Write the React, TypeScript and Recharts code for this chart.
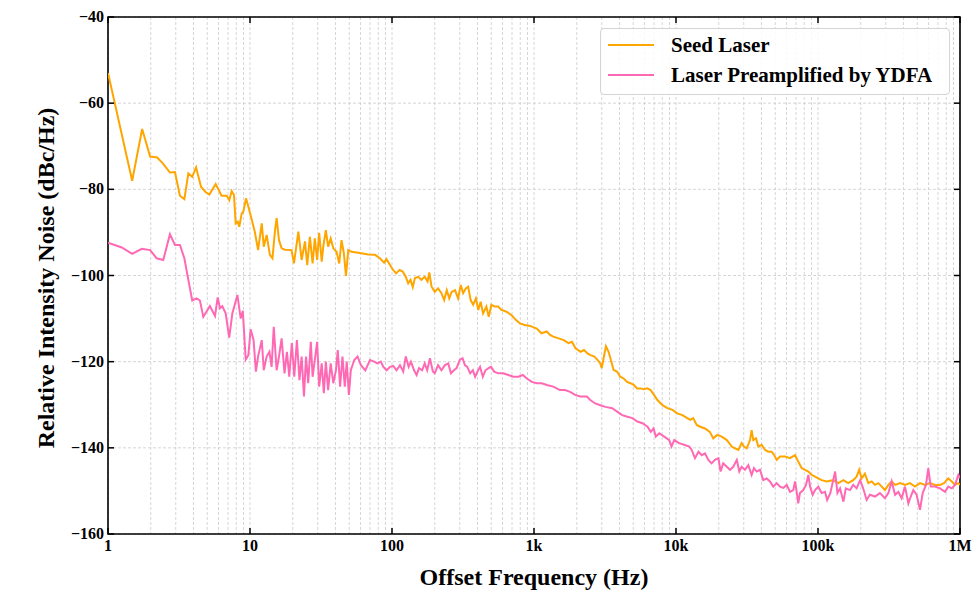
import React from 'react';
import { LineChart, Line, XAxis, YAxis, CartesianGrid, ReferenceArea } from 'recharts';

// [offset frequency (Hz), RIN (dBc/Hz)]
const seedLaser: [number, number][] = [
  [1, -53.0], [1.48, -78.0], [1.74, -66.0], [1.98, -72.4], [2.22, -72.6], [2.45, -74.1], [2.73, -76.1], [2.96, -76.0],
  [3.21, -81.5], [3.45, -82.3], [3.68, -76.3], [3.92, -77.1], [4.17, -74.9], [4.52, -79.4], [4.82, -80.5], [5.17, -81.2],
  [5.73, -78.8], [6.31, -81.5], [6.85, -81.5], [7.15, -82.5], [7.43, -80.4], [7.71, -81.3], [7.93, -87.9], [8.2, -87.5],
  [8.4, -88.7], [8.74, -85.6], [8.97, -85.2], [9.37, -82.1], [9.73, -84.0], [10.3, -87.1], [10.8, -89.8], [11.4, -94.1],
  [12.1, -87.9], [12.5, -93.3], [13.1, -90.6], [13.8, -95.2], [14.4, -96.0], [15.0, -89.5], [15.4, -86.7], [16.0, -91.8],
  [16.7, -93.7], [17.6, -94.0], [19.6, -94.1], [20.4, -97.2], [21.9, -89.8], [23.1, -96.4], [24.4, -92.1], [25.3, -97.6],
  [26.4, -91.0], [27.6, -97.2], [28.6, -91.4], [29.7, -96.4], [30.7, -90.1], [32.0, -96.8], [32.8, -93.3], [34.2, -89.5],
  [35.5, -93.3], [37.0, -91.4], [38.6, -93.7], [40.7, -94.5], [42.5, -97.2], [44.1, -91.8], [45.8, -94.8], [47.4, -100.1],
  [49.2, -94.1], [52.0, -94.5], [59.4, -94.8], [68.0, -95.1], [75.9, -95.2], [82.2, -96.0], [88.0, -97.0], [91.5, -96.2],
  [97.1, -97.6], [101.7, -98.7], [107, -99.5], [113, -98.7], [119, -99.1], [125, -100.3], [130, -101.8], [135, -101.0],
  [140, -102.7], [145, -100.6], [153, -100.3], [161, -101.0], [170, -100.3], [178, -101.4], [183, -99.3], [190, -102.6],
  [200, -103.8], [211, -103.0], [223, -104.1], [233, -105.7], [243, -103.4], [253, -105.3], [263, -103.8], [278, -103.4],
  [292, -105.3], [305, -102.2], [317, -104.1], [331, -103.0], [344, -102.6], [358, -105.7], [373, -106.8], [390, -105.3],
  [405, -108.0], [421, -106.1], [438, -108.8], [462, -107.2], [480, -109.6], [501, -106.8], [529, -107.2], [559, -107.2],
  [590, -108.0], [640, -108.4], [695, -109.2], [744, -110.3], [795, -111.1], [863, -111.5], [937, -111.7], [1046, -112.3],
  [1128, -113.4], [1228, -113.0], [1298, -113.8], [1368, -114.2], [1490, -114.6], [1620, -115.0], [1750, -115.7],
  [1850, -115.4], [1960, -116.9], [2130, -117.7], [2250, -117.3], [2380, -118.1], [2500, -118.5], [2660, -118.8],
  [2800, -119.6], [2930, -120.4], [3000, -121.5], [3120, -118.5], [3210, -116.4], [3350, -117.7], [3480, -119.6],
  [3630, -121.9], [3840, -122.3], [4050, -123.5], [4280, -123.9], [4520, -124.7], [4770, -125.0], [5040, -125.4],
  [5320, -126.2], [5630, -126.2], [5940, -126.4], [6280, -126.2], [6630, -126.6], [7000, -127.7], [7400, -128.9],
  [8030, -130.1], [8700, -130.8], [9440, -131.2], [10200, -132.0], [11100, -132.4], [12000, -133.1], [12600, -133.5],
  [13200, -133.1], [14000, -134.7], [14800, -135.1], [16000, -135.5], [17300, -136.3], [18300, -137.8], [19500, -137.0],
  [21000, -137.4], [22800, -138.2], [24700, -139.7], [26000, -140.1], [27500, -140.5], [29000, -138.9], [30100, -139.7],
  [31500, -140.1], [33200, -138.2], [34100, -135.9], [35000, -138.2], [36600, -137.8], [38000, -139.7], [40100, -139.3],
  [42400, -140.5], [44700, -140.9], [47200, -140.9], [49200, -141.7], [51200, -142.8], [54000, -142.0], [58600, -142.0],
  [63500, -142.4], [68900, -141.7], [72600, -143.2], [76700, -144.7], [80900, -145.1], [85500, -145.5], [90300, -146.3],
  [95300, -146.7], [100500, -147.1], [106000, -147.5], [115000, -147.8], [128000, -147.5], [139000, -148.2],
  [151000, -147.5], [163000, -148.2], [177000, -147.5], [187000, -146.7], [195000, -145.1], [203000, -147.1],
  [214000, -146.0], [226000, -148.2], [239000, -147.8], [252000, -148.6], [266000, -148.2], [281000, -149.0],
  [296000, -149.8], [313000, -148.6], [330000, -147.8], [349000, -148.6], [378000, -148.2], [410000, -148.6],
  [444000, -148.2], [482000, -149.0], [523000, -148.2], [567000, -148.6], [615000, -148.2], [667000, -148.6],
  [723000, -148.6], [771000, -148.2], [827000, -147.1], [875000, -147.8], [923000, -148.6], [973000, -148.2],
  [1000000, -148.6],
];

const ydfaLaser: [number, number][] = [
  [1, -92.4], [1.25, -93.5], [1.48, -95.0], [1.73, -93.8], [1.98, -94.1], [2.2, -96.0], [2.45, -96.4], [2.73, -90.4],
  [2.96, -92.9], [3.21, -92.9], [3.45, -96.0], [3.68, -101.0], [3.92, -105.8], [4.21, -105.3], [4.44, -105.8],
  [4.69, -109.6], [5.22, -107.1], [5.67, -109.4], [5.92, -105.1], [6.15, -107.6], [6.38, -107.1], [6.74, -108.8],
  [7.14, -114.4], [7.51, -108.8], [8.15, -104.5], [8.6, -110.0], [8.9, -108.2], [9.33, -119.5], [9.74, -118.5],
  [10.1, -112.5], [10.6, -115.0], [11.0, -122.3], [11.4, -118.8], [12.1, -115.0], [12.5, -122.0], [13.1, -118.8],
  [13.7, -117.7], [14.2, -121.2], [14.7, -111.9], [15.4, -122.0], [16.0, -118.8], [16.7, -114.6], [17.5, -122.7],
  [18.2, -117.7], [18.9, -123.5], [19.7, -115.7], [20.5, -123.5], [21.4, -115.0], [22.3, -124.3], [23.1, -118.8],
  [24.0, -128.1], [24.8, -118.8], [25.7, -125.0], [26.8, -115.4], [27.6, -123.5], [28.6, -119.6], [29.7, -115.4],
  [30.7, -125.8], [32.0, -120.4], [33.1, -127.3], [34.2, -120.0], [35.5, -126.6], [37.0, -120.4], [38.6, -125.0],
  [40.3, -122.0], [41.5, -117.3], [43.1, -125.8], [44.8, -118.8], [46.5, -125.8], [48.0, -120.0], [49.7, -127.7],
  [51.3, -122.0], [54.2, -119.6], [57.2, -118.8], [60.4, -120.8], [64.9, -122.0], [70.0, -119.6], [74.8, -120.0],
  [78.9, -120.4], [83.4, -120.0], [87.0, -121.2], [91.5, -122.0], [97.1, -121.2], [102, -121.0], [107.6, -122.0],
  [113.8, -120.8], [120, -122.3], [125, -118.8], [131, -121.2], [136, -120.0], [143, -122.0], [149, -123.1],
  [155, -121.5], [163, -122.0], [170, -120.4], [177, -122.0], [185, -119.2], [194, -122.3], [200, -122.7],
  [211, -120.8], [223, -122.0], [236, -120.8], [249, -120.4], [260, -122.7], [273, -122.0], [285, -121.5],
  [300, -119.6], [314, -119.2], [326, -120.8], [339, -121.2], [355, -122.7], [371, -122.0], [385, -123.5],
  [400, -122.3], [417, -121.2], [436, -123.5], [455, -122.0], [478, -121.5], [498, -121.2], [524, -122.3],
  [560, -122.7], [607, -122.7], [659, -123.1], [716, -123.5], [777, -123.5], [834, -123.1], [890, -123.9],
  [965, -124.7], [1047, -125.0], [1135, -125.0], [1230, -125.4], [1368, -125.8], [1524, -126.6], [1654, -126.6],
  [1795, -127.0], [1948, -127.7], [2114, -128.1], [2358, -128.1], [2490, -128.9], [2700, -129.7], [2930, -130.1],
  [3180, -130.5], [3550, -130.8], [3850, -131.6], [4180, -132.4], [4540, -132.8], [4930, -133.1], [5350, -133.9],
  [5800, -134.3], [6300, -135.1], [6650, -136.3], [6950, -135.5], [7210, -137.4], [7620, -136.6], [8260, -137.4],
  [8960, -138.2], [9300, -139.7], [9720, -138.2], [10500, -138.9], [11400, -139.3], [12400, -139.7], [12900, -140.5],
  [13600, -142.4], [14400, -140.9], [15200, -141.7], [16000, -141.3], [16900, -142.8], [17800, -143.6], [18800, -142.8],
  [19900, -142.4], [20600, -145.5], [21500, -143.6], [22800, -144.4], [24000, -145.1], [25300, -144.4], [26800, -142.8],
  [27900, -145.5], [29000, -144.4], [30600, -145.1], [32300, -144.0], [34100, -146.3], [35400, -144.7], [37000, -145.5],
  [39000, -145.1], [41200, -147.5], [43500, -147.1], [45900, -147.8], [48400, -149.0], [51200, -148.2], [54000, -149.0],
  [57000, -149.3], [60200, -148.6], [63500, -150.2], [67000, -149.8], [68900, -147.8], [70800, -150.2], [72600, -152.9],
  [74600, -150.5], [78800, -149.8], [82300, -148.6], [85500, -146.3], [87900, -149.0], [91800, -150.9], [95300, -149.8],
  [100500, -149.0], [106000, -150.5], [112000, -150.2], [116000, -152.1], [122000, -150.5], [125000, -149.0],
  [132000, -145.5], [137000, -150.5], [143000, -149.4], [151000, -152.5], [157000, -149.4], [168000, -149.8],
  [177000, -148.6], [187000, -149.4], [198000, -147.5], [208000, -149.4], [220000, -152.1], [232000, -150.9],
  [252000, -151.3], [273000, -150.5], [296000, -151.7], [313000, -150.5], [330000, -147.8], [349000, -150.9],
  [368000, -150.2], [388000, -151.7], [410000, -149.0], [433000, -152.9], [450000, -151.3], [469000, -149.8],
  [495000, -150.9], [523000, -154.4], [546000, -150.5], [576000, -148.6], [598000, -144.7], [622000, -149.0],
  [667000, -149.0], [723000, -149.4], [784000, -150.2], [827000, -149.0], [875000, -149.4], [923000, -148.6],
  [973000, -146.3], [1000000, -147.0],
];

const xMajorTicks = [1, 10, 100, 1000, 10000, 100000, 1000000];
const xMajorLabels = ['1', '10', '100', '1k', '10k', '100k', '1M'];
const xAllTicks = [
  1, 2, 3, 4, 5, 6, 7, 8, 9,
  10, 20, 30, 40, 50, 60, 70, 80, 90,
  100, 200, 300, 400, 500, 600, 700, 800, 900,
  1000, 2000, 3000, 4000, 5000, 6000, 7000, 8000, 9000,
  10000, 20000, 30000, 40000, 50000, 60000, 70000, 80000, 90000,
  100000, 200000, 300000, 400000, 500000, 600000, 700000, 800000, 900000,
  1000000,
];
const yTicks = [-160, -140, -120, -100, -80, -60, -40];

const seriesNames = ['Seed Laser', 'Laser Preamplified by YDFA'];
const seriesColors = ['#FFA500', '#FF69B4'];

const seedData = seedLaser.map(([f, v]) => ({ f, rin: v }));
const ydfaData = ydfaLaser.map(([f, v]) => ({ f, rin: v }));

const W = 973;
const H = 598;
const M_TOP = 17;
const M_RIGHT = 13;
const Y_W = 108;
const X_H = 64;
const PLOT_LEFT = Y_W;
const PLOT_RIGHT = W - M_RIGHT;
const PLOT_TOP = M_TOP;
const PLOT_BOTTOM = H - X_H;
const FONT = '"Liberation Serif", "Times New Roman", Times, serif';
const TICK_LEN = 6;

const XTick = (props: any) => {
  const { x, payload } = props;
  const idx = xMajorTicks.indexOf(payload.value);
  if (idx < 0) return <g />;
  return (
    <g>
      <line x1={x} x2={x} y1={PLOT_BOTTOM} y2={PLOT_BOTTOM - TICK_LEN} stroke="#000" strokeWidth={1.5} />
      <line x1={x} x2={x} y1={PLOT_TOP} y2={PLOT_TOP + TICK_LEN} stroke="#000" strokeWidth={1.5} />
      <text x={x} y={PLOT_BOTTOM + 17} textAnchor="middle" fontFamily={FONT} fontWeight="bold" fontSize={16} fill="#000">
        {xMajorLabels[idx]}
      </text>
    </g>
  );
};

const YTick = (props: any) => {
  const { y, payload } = props;
  const v = payload.value as number;
  return (
    <g>
      <line x1={PLOT_LEFT} x2={PLOT_LEFT + TICK_LEN} y1={y} y2={y} stroke="#000" strokeWidth={1.5} />
      <line x1={PLOT_RIGHT} x2={PLOT_RIGHT - TICK_LEN} y1={y} y2={y} stroke="#000" strokeWidth={1.5} />
      <text x={PLOT_LEFT - 4} y={y + 5} textAnchor="end" fontFamily={FONT} fontWeight="bold" fontSize={16} fill="#000">
        {String(v).replace('-', '\u2212')}
      </text>
    </g>
  );
};

export default function App() {
  return (
    <div style={{ position: 'relative', width: W, height: H, background: '#fff', fontFamily: FONT }}>
      <style>{'html,body{margin:0;padding:0;overflow:hidden;background:#fff;}'}</style>
      <LineChart width={W} height={H} margin={{ top: M_TOP, right: M_RIGHT, bottom: 0, left: 0 }}>
        <CartesianGrid stroke="#cccccc" strokeDasharray="3 2" strokeWidth={0.8} />
        <XAxis
          dataKey="f"
          type="number"
          scale="log"
          domain={[1, 1000000]}
          ticks={xAllTicks}
          interval={0}
          allowDataOverflow
          height={X_H}
          tickLine={false}
          axisLine={false}
          tickSize={0}
          tickMargin={0}
          tick={<XTick />}
        />
        <YAxis
          type="number"
          domain={[-160, -40]}
          ticks={yTicks}
          interval={0}
          allowDataOverflow
          width={Y_W}
          tickLine={false}
          axisLine={false}
          tickSize={0}
          tickMargin={4}
          tick={<YTick />}
        />
        <ReferenceArea x1={1} x2={1000000} y1={-160} y2={-40} fill="none" fillOpacity={0} stroke="#000" strokeWidth={1.6} ifOverflow="visible" />
        <Line data={seedData} dataKey="rin" name={seriesNames[0]} stroke={seriesColors[0]} strokeWidth={2} dot={false} isAnimationActive={false} />
        <Line data={ydfaData} dataKey="rin" name={seriesNames[1]} stroke={seriesColors[1]} strokeWidth={2} dot={false} isAnimationActive={false} />
      </LineChart>

      <div
        style={{
          position: 'absolute', left: (PLOT_LEFT + PLOT_RIGHT) / 2, top: 577, transform: 'translate(-50%, -50%)',
          fontSize: 24, fontWeight: 'bold', whiteSpace: 'nowrap', color: '#000',
        }}
      >
        Offset Frequency (Hz)
      </div>
      <div
        style={{
          position: 'absolute', left: 46, top: 278, transform: 'translate(-50%, -50%) rotate(-90deg)',
          fontSize: 24, fontWeight: 'bold', whiteSpace: 'nowrap', color: '#000',
        }}
      >
        Relative Intensity Noise (dBc/Hz)
      </div>

      <div
        style={{
          position: 'absolute', left: 600, top: 28, width: 350, height: 67, boxSizing: 'border-box',
          border: '1px solid #d4d4d4', borderRadius: 4, background: 'rgba(255,255,255,0.85)',
        }}
      >
        {seriesNames.map((n, i) => (
          <div key={n} style={{ position: 'absolute', left: 0, top: 16 + i * 30, width: '100%' }}>
            <div style={{ position: 'absolute', left: 7, top: -1, width: 46, height: 2, background: seriesColors[i] }} />
            <div
              style={{
                position: 'absolute', left: 70, top: 0, transform: 'translateY(-50%)',
                fontSize: 21, fontWeight: 'bold', whiteSpace: 'nowrap', color: '#000', lineHeight: 1,
              }}
            >
              {n}
            </div>
          </div>
        ))}
      </div>
    </div>
  );
}
